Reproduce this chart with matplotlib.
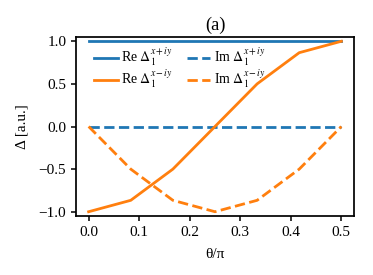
import matplotlib
matplotlib.use("Agg")
import matplotlib.pyplot as plt

theta = [0.0, 1/12, 2/12, 3/12, 4/12, 5/12, 6/12]
re_plus = [1.0, 1.0, 1.0, 1.0, 1.0, 1.0, 1.0]
im_plus = [0.0, 0.0, 0.0, 0.0, 0.0, 0.0, 0.0]
re_minus = [-1.0, -0.866, -0.5, 0.0, 0.5, 0.866, 1.0]
im_minus = [0.0, -0.5, -0.866, -1.0, -0.866, -0.5, 0.0]

plt.rcParams['font.family'] = ['Liberation Serif', 'DejaVu Serif']
plt.rcParams['mathtext.fontset'] = 'stix'
plt.rcParams['font.size'] = 11
plt.rcParams['axes.linewidth'] = 1.25
plt.rcParams['xtick.major.width'] = 1.1
plt.rcParams['ytick.major.width'] = 1.1

fig = plt.figure(figsize=(3.73, 2.75), dpi=100)
ax = fig.add_axes([76/373, 1 - 216/275, (354-76)/373, (216-37)/275])

ax.plot(theta, re_plus, color='C0', lw=2, label=r'Re $\Delta_1^{x+iy}$')
ax.plot(theta, im_plus, color='C0', lw=2, ls='--', label=r'Im $\Delta_1^{x+iy}$')
ax.plot(theta, re_minus, color='C1', lw=2, label=r'Re $\Delta_1^{x-iy}$')
ax.plot(theta, im_minus, color='C1', lw=2, ls='--', label=r'Im $\Delta_1^{x-iy}$')

ax.set_ylim(-1.05, 1.05)
ax.set_xticks([0.0, 0.1, 0.2, 0.3, 0.4, 0.5])
ax.set_yticks([-1.0, -0.5, 0.0, 0.5, 1.0])
ax.set_xlabel('θ/π', labelpad=7)
ax.set_ylabel('Δ [a.u.]', labelpad=7)
ax.set_title('(a)', pad=5)

# legend: two columns, no frame
h, l = ax.get_legend_handles_labels()
order = [0, 2, 1, 3]
ax.legend([h[i] for i in order], [l[i] for i in order], ncol=2, frameon=False,
          fontsize=10, loc='upper left', bbox_to_anchor=(0.025, 1.015),
          handlelength=1.7, handletextpad=0.25, columnspacing=1.0,
          labelspacing=-0.03, borderpad=0.3)

fig.savefig('out.png', dpi=100)
